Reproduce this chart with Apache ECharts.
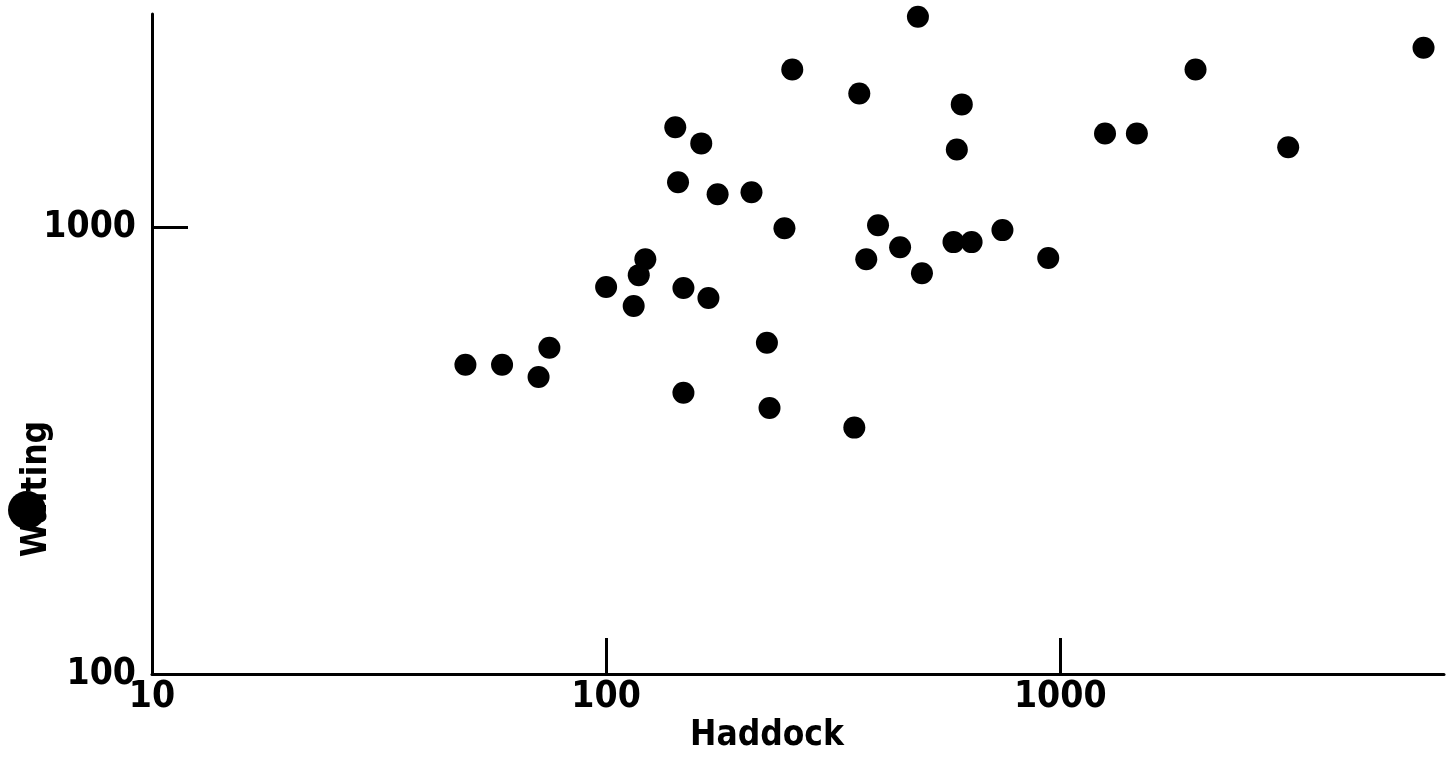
<!DOCTYPE html>
<html>
<head>
<meta charset="utf-8">
<script src="https://cdn.jsdelivr.net/npm/echarts@6/dist/echarts.min.js"></script>
<style>
  html, body { margin: 0; padding: 0; background: #fff; }
  #main { width: 1455px; height: 760px; }
</style>
</head>
<body>
<div id="main"></div>
<script>
// haddock (x) vs whiting (y)
var haddock = [49, 59, 71, 75, 100, 115, 118, 122, 142, 144, 148, 148, 162, 168, 176, 209, 226, 229, 247, 257,
               352, 361, 374, 397, 444, 486, 496, 592, 607, 582, 638, 746, 941, 1255, 1475, 1986, 3177, 6310];
var whiting = [492, 492, 462, 537, 735, 666, 781, 848, 1673, 1260, 731, 426, 1540, 694, 1185, 1197, 551, 394, 995, 2253,
               356, 1991, 848, 1010, 902, 2958, 789, 1493, 1883, 926, 926, 985, 853, 1621, 1621, 2253, 1509, 2522];
var xTicks = [10, 100, 1000];
var yTicks = [100, 1000];
var xRange = [10, 7000];
var yRange = [100, 3000];

var points = [];
for (var i = 0; i < haddock.length; i++) {
  points.push([haddock[i], whiting[i]]);
}

var labelFont = {
  color: '#000',
  fontFamily: '"Liberation Sans Narrow", "DejaVu Sans Condensed", sans-serif',
  fontWeight: 'bold',
  fontSize: 37,
  formatter: function (v) { return String(v); }
};
var nameFont = {color: '#000', fontFamily: 'DejaVu Sans Condensed', fontWeight: 'bold', fontSize: 35};
var lineStyle = {color: '#000', width: 3};

var chart = echarts.init(document.getElementById('main'));
chart.setOption({
  backgroundColor: '#fff',
  animation: false,
  grid: {left: 152, right: 11, top: 14, bottom: 86, containLabel: false, outerBoundsMode: 'none'},
  xAxis: {
    type: 'log',
    logBase: 10,
    min: xRange[0],
    max: xRange[1],
    name: 'Haddock',
    nameLocation: 'middle',
    nameGap: 44,
    nameMoveOverlap: false,
    nameTextStyle: Object.assign({padding: [0, 62, 0, 0]}, nameFont),
    axisLine: {lineStyle: lineStyle},
    axisTick: {inside: true, length: 36, lineStyle: lineStyle, customValues: xTicks},
    axisLabel: Object.assign({margin: 5, customValues: xTicks}, labelFont),
    splitLine: {show: false}
  },
  yAxis: {
    type: 'log',
    logBase: 10,
    min: yRange[0],
    max: yRange[1],
    name: 'Waiting',
    nameLocation: 'middle',
    nameGap: 98,
    nameMoveOverlap: false,
    nameTextStyle: Object.assign({padding: [0, 290, 0, 0]}, nameFont),
    axisLine: {lineStyle: lineStyle},
    axisTick: {inside: true, length: 36, lineStyle: lineStyle, customValues: yTicks},
    axisLabel: Object.assign({margin: 16, customValues: yTicks}, labelFont),
    splitLine: {show: false}
  },
  // ink blot sitting on the y title in the scan
  graphic: [{
    type: 'circle',
    shape: {cx: 27, cy: 510, r: 19},
    style: {fill: '#000'},
    z: 100
  }],
  series: [{
    type: 'scatter',
    data: points,
    symbol: 'circle',
    symbolSize: 22,
    itemStyle: {color: '#000', opacity: 1}
  }]
});
</script>
</body>
</html>
